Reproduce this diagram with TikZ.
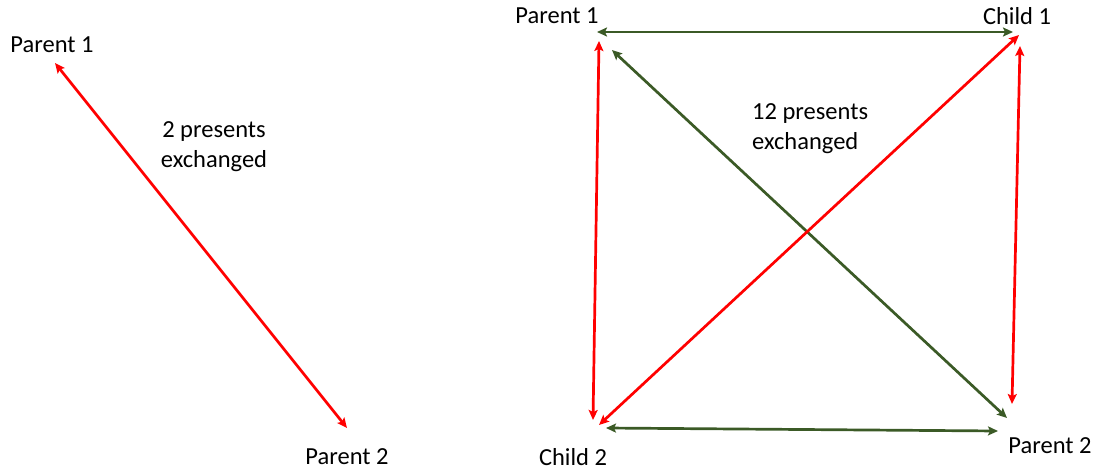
\documentclass[tikz,border=0pt]{standalone}
\usepackage{fontspec}
\setmainfont{Carlito}
\usetikzlibrary{arrows.meta}
\definecolor{giftred}{HTML}{FF0000}
\definecolor{giftgreen}{HTML}{3B5A26}
\tikzset{
  lbl/.style={inner sep=0pt, font=\fontsize{24.5}{30}\selectfont},
  xchg/.style={line width=2.7pt, {Stealth[length=10pt,width=9pt,inset=2pt]}-{Stealth[length=10pt,width=9pt,inset=2pt]}},
  redx/.style={xchg, draw=giftred},
  greenx/.style={xchg, draw=giftgreen}
}
\begin{document}
\begin{tikzpicture}[x=1pt,y=-1pt]
\useasboundingbox (0,0) rectangle (1101,471);

% two-person exchange
\node[lbl] (lp1) at (52,45) {Parent 1};
\node[lbl] (lp2) at (347,457) {Parent 2};
\node[lbl, align=center] (lnote) at (214,147) {2 presents\\exchanged};
\coordinate (lp1a) at (55,63);
\coordinate (lp2a) at (347,428);
\draw[redx] (lp1a) -- (lp2a);

% four-person exchange
\node[lbl] (rp1) at (557,16) {Parent 1};
\node[lbl] (rc1) at (1017,16) {Child 1};
\node[lbl] (rc2) at (573,457) {Child 2};
\node[lbl] (rp2) at (1050,446) {Parent 2};
\node[lbl, align=left, anchor=west] (rnote) at (752,129) {12 presents\\exchanged};

\coordinate (p1e) at (597,32);
\coordinate (p1s) at (599,41);
\coordinate (p1d) at (612,50);
\coordinate (c1w) at (1013,32);
\coordinate (c1d) at (1019,35);
\coordinate (c1s) at (1020,46);
\coordinate (c2n) at (593,420);
\coordinate (c2d) at (599,425);
\coordinate (c2e) at (606,428);
\coordinate (p2w) at (998,431);
\coordinate (p2d) at (1007,418);
\coordinate (p2n) at (1012,404);

\draw[greenx] (p1e) -- (c1w);
\draw[greenx] (c2e) -- (p2w);
\draw[greenx] (p1d) -- (p2d);
\draw[redx] (p1s) -- (c2n);
\draw[redx] (c1s) -- (p2n);
\draw[redx] (c1d) -- (c2d);
\end{tikzpicture}
\end{document}
